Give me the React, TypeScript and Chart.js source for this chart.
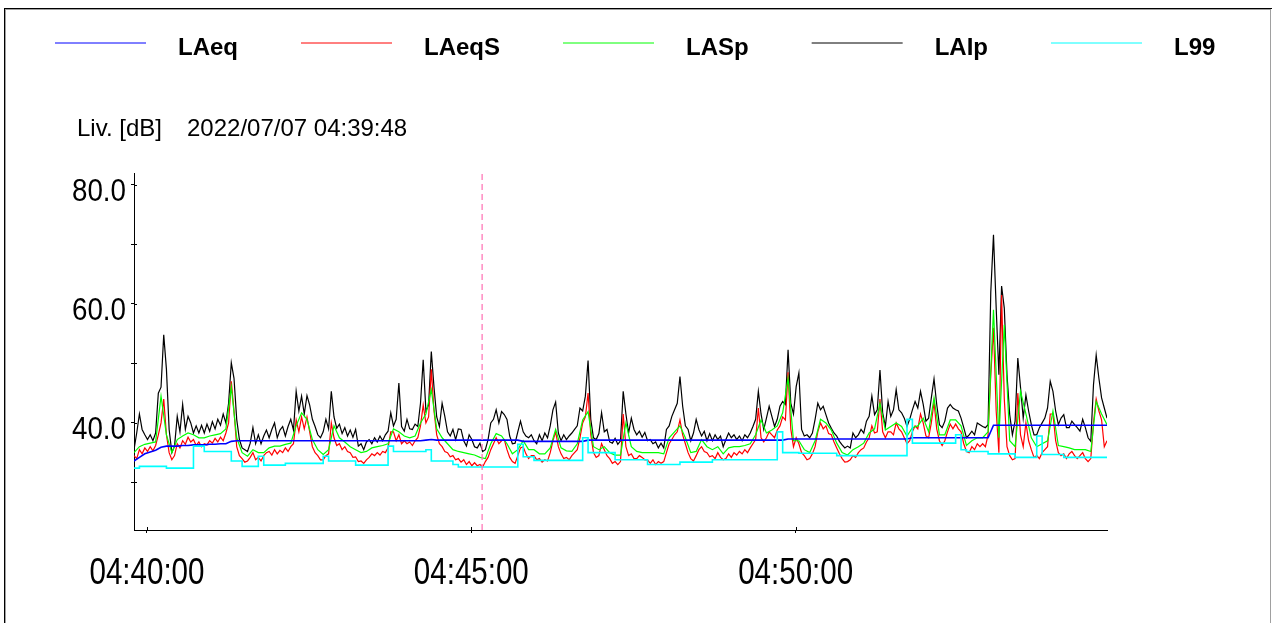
import React, { useEffect, useRef } from 'react';
import { Chart, registerables } from 'chart.js';

Chart.register(...registerables);

// ---- text / ticks ----
const Y_TITLE = 'Liv. [dB]';
const DATE_LABEL = '2022/07/07 04:39:48';
const START_TIME = '04:39:48';
const CURSOR_TIME = '04:45:10';
const STEP_S = 5; // LAeq, LASp, L99 sampling
const FAST_STEP_S = 2.5; // LAIp, LAeqS sampling
const SPAN_S = 900;
const X_TICK_LABELS = ['04:40:00', '04:45:00', '04:50:00'];
const Y_TICK_LABELS = ['40.0', '60.0', '80.0'];
const Y_MINOR_TICKS = [30, 50, 70];
const Y_MIN = 22;
const Y_MAX = 82;

const SERIES_NAMES = ['LAeq', 'LAeqS', 'LASp', 'LAIp', 'L99'];
const SERIES_COLORS = ['#0000ff', '#ff0000', '#00ff00', '#000000', '#00ffff'];

// ---- series values ----
// LAIp, one value every FAST_STEP_S seconds from START_TIME
const LAIp = [
  35.5, 38.3, 41.5, 38.9, 38.0, 37.2, 38.0, 37.0, 38.3, 45.0,
  46.0, 54.8, 49.0, 38.9, 35.0, 36.1, 41.1, 38.5, 43.1, 38.9,
  41.1, 40.0, 38.3, 39.5, 38.3, 39.6, 38.3, 39.8, 38.6, 40.2,
  39.0, 40.6, 39.6, 41.5, 40.0, 43.3, 50.1, 47.5, 40.6, 37.2,
  35.8, 35.5, 35.2, 36.6, 39.2, 36.5, 38.0, 36.5, 37.8, 38.8,
  37.5, 38.9, 40.0, 37.5, 38.8, 39.4, 37.8, 39.4, 40.6, 38.8,
  45.3, 42.0, 44.5, 41.5, 44.6, 43.0, 40.6, 39.4, 38.0, 37.5,
  38.5, 40.6, 39.0, 45.3, 41.0, 39.1, 39.8, 38.2, 39.2, 37.8,
  38.8, 37.6, 38.9, 36.1, 36.5, 35.5, 36.8, 37.2, 36.5, 37.5,
  36.8, 37.8, 37.0, 38.0, 38.6, 41.7, 39.5, 40.6, 46.7, 39.4,
  38.6, 40.6, 39.0, 38.9, 39.8, 39.4, 43.3, 50.6, 42.0, 43.0,
  52.0, 46.0, 41.0, 39.4, 43.3, 41.1, 38.5, 37.8, 38.9, 37.2,
  39.0, 38.9, 37.0, 36.1, 38.0, 37.2, 36.0, 35.8, 36.6, 35.2,
  35.5, 37.2, 40.0, 40.6, 42.2, 40.0, 41.9, 41.4, 40.6, 37.8,
  36.5, 36.6, 38.5, 40.3, 38.5, 37.8, 37.5, 38.0, 37.0, 36.5,
  38.0, 37.0, 38.3, 37.5, 39.5, 42.2, 43.5, 38.3, 37.0, 38.0,
  37.2, 37.8, 38.3, 38.9, 39.5, 42.5, 42.0, 44.5, 50.5, 40.6,
  37.5, 37.2, 38.2, 41.7, 38.5, 38.9, 36.8, 36.6, 37.4, 36.4,
  37.0, 45.3, 41.5, 38.3, 40.8, 38.9, 38.0, 38.6, 37.6, 38.4,
  37.0, 37.2, 36.5, 36.8, 35.8, 36.6, 35.8, 38.9, 39.5, 41.1,
  42.2, 43.3, 47.8, 42.8, 39.5, 38.9, 37.0, 38.3, 40.6, 38.9,
  37.8, 38.6, 37.0, 38.2, 37.0, 38.0, 37.2, 37.8, 36.0, 37.2,
  38.3, 37.5, 38.0, 37.2, 37.8, 37.0, 38.0, 37.5, 38.3, 39.4,
  40.6, 45.3, 41.5, 38.9, 40.8, 42.8, 41.1, 39.4, 40.6, 42.8,
  43.6, 43.1, 52.3, 43.3, 41.5, 46.1, 48.4, 38.9, 37.8, 38.0,
  37.5, 38.3, 40.6, 43.3, 42.2, 42.8, 41.4, 40.0, 39.1, 38.3,
  37.8, 36.9, 36.3, 35.8, 36.1, 35.8, 38.3, 37.5, 38.0, 38.9,
  38.3, 40.3, 41.1, 44.5, 41.4, 42.2, 48.9, 41.7, 39.4, 43.6,
  41.1, 42.2, 45.6, 42.2, 41.7, 40.8, 39.4, 40.6, 42.2, 43.6,
  42.5, 45.3, 43.1, 40.3, 40.8, 44.2, 47.4, 43.1, 39.7, 39.2,
  40.3, 42.5, 43.1, 42.5, 42.2, 42.0, 40.8, 39.2, 37.5, 38.0,
  38.6, 38.0, 40.0, 39.7, 39.4, 39.2, 39.7, 62.0, 71.6, 59.3,
  48.1, 63.0, 59.3, 48.1, 41.4, 38.0, 40.3, 50.9, 46.0, 40.8,
  44.7, 42.0, 39.7, 38.0, 38.0, 39.2, 40.0, 40.8, 42.5, 47.0,
  45.3, 42.0, 39.7, 40.8, 41.4, 39.2, 39.2, 40.3, 39.7, 39.2,
  38.6, 40.6, 39.2, 37.5, 36.9, 46.4, 51.4, 47.5, 44.2, 42.5,
  40.8,
];

// LAeqS, one value every FAST_STEP_S seconds from START_TIME
const LAeqS = [
  34.5, 34.0, 35.5, 34.8, 35.8, 35.2, 36.0, 35.3, 36.2, 38.0,
  40.0, 44.0, 38.0, 35.0, 33.8, 34.5, 36.5, 35.8, 37.0, 36.4,
  37.6, 36.8, 37.2, 36.2, 36.8, 36.0, 36.5, 36.3, 37.0, 36.6,
  37.4, 36.8, 37.6, 37.0, 38.3, 40.0, 47.0, 42.0, 36.0, 34.5,
  34.0, 33.4, 33.6, 34.2, 35.0, 33.8, 34.2, 33.6, 34.5, 35.0,
  35.2, 34.6, 35.5, 34.8, 35.4, 35.0, 35.8, 35.2, 36.0, 36.5,
  40.5, 38.5, 41.0, 39.0, 41.0, 38.5, 36.0, 35.0, 34.5, 33.8,
  33.8, 34.5, 34.8, 40.0, 37.5, 36.2, 36.5, 35.5, 36.0, 35.2,
  35.0, 34.2, 34.3, 33.5, 33.6, 33.2, 33.8, 34.2, 34.8, 34.5,
  35.0, 34.6, 35.2, 35.0, 35.8, 38.5, 38.5, 37.0, 38.0, 36.5,
  37.0, 36.5, 36.8, 36.2, 37.0, 37.5, 39.5, 43.0, 40.0, 41.0,
  49.0, 42.0, 38.0, 36.5, 36.0, 35.2, 35.0, 34.3, 34.5, 33.8,
  34.0, 33.4, 33.8, 33.0, 33.5, 32.8, 33.3, 32.8, 33.0, 32.6,
  33.5, 34.2, 35.5, 36.5, 37.5, 36.5, 37.0, 37.2, 35.5, 34.2,
  33.5, 33.2, 34.5, 35.8, 36.0, 34.8, 34.0, 34.5, 34.5, 33.8,
  34.0, 33.4, 33.8, 33.6, 35.0, 37.0, 38.5, 36.0, 34.8, 34.0,
  34.2, 33.8, 34.5, 35.0, 35.5, 37.5, 40.0, 41.0, 45.0, 38.0,
  35.0, 34.2, 34.5, 36.5, 35.5, 34.5, 34.0, 33.2, 33.5, 33.0,
  33.5, 41.5, 36.0, 34.5, 34.8, 34.0, 34.0, 34.5, 34.2, 33.8,
  33.8, 33.2, 33.8, 33.0, 33.5, 33.2, 33.5, 35.0, 36.5, 37.2,
  38.0, 38.5, 40.5, 38.0, 36.5, 35.0, 34.0, 33.6, 34.5, 35.5,
  36.0, 35.2, 35.0, 34.3, 34.5, 34.0, 35.0, 34.2, 33.8, 34.0,
  34.8, 34.2, 35.0, 34.6, 35.2, 34.8, 35.5, 35.0, 35.8, 36.5,
  37.2, 42.5, 37.5, 36.8, 37.5, 38.5, 38.0, 37.5, 38.8, 39.5,
  41.0, 40.5, 48.5, 39.0, 36.0, 37.5, 36.5, 35.0, 34.5, 33.8,
  34.0, 34.8, 36.0, 38.5, 40.0, 39.0, 39.5, 38.2, 38.0, 36.8,
  35.8, 34.8, 34.0, 33.4, 33.5, 33.8, 34.5, 34.2, 35.0, 35.5,
  35.8, 36.8, 37.5, 39.5, 38.3, 38.5, 44.0, 38.5, 37.5, 38.5,
  38.5, 38.0, 40.0, 39.0, 38.5, 37.5, 36.5, 37.0, 38.5, 39.5,
  39.0, 41.5, 40.0, 37.8, 37.5, 40.0, 43.5, 39.0, 37.0, 36.2,
  37.0, 38.5, 39.8, 39.0, 39.8, 39.0, 38.5, 36.5, 35.2, 35.0,
  36.0, 35.5, 36.5, 36.0, 36.5, 36.0, 38.0, 48.0, 56.0, 42.0,
  35.0, 61.5, 44.0, 36.0, 34.5, 33.8, 34.0, 45.0, 38.0, 36.0,
  40.0, 37.0, 35.5, 34.2, 34.5, 34.0, 35.0, 35.5, 36.0, 41.5,
  41.5, 37.0, 35.0, 34.5, 34.8, 34.0, 34.8, 35.2, 34.5, 34.0,
  34.5, 35.0, 34.0, 33.5, 34.0, 40.0, 44.0, 42.0, 40.5, 36.0,
  37.0,
];

// LASp, one value every STEP_S seconds from START_TIME
const LASp = [
  35.0, 36.0, 36.4, 36.6, 36.8, 44.5, 38.0, 35.0, 37.2, 37.8,
  38.3, 38.0, 37.5, 37.5, 37.8, 38.0, 38.2, 39.0, 46.0, 37.5,
  35.0, 34.4, 35.5, 35.0, 35.0, 35.8, 36.1, 36.1, 36.4, 36.6,
  39.5, 41.7, 40.6, 37.2, 35.5, 34.7, 35.5, 39.5, 37.5, 36.8,
  36.0, 35.5, 35.0, 35.2, 35.8, 36.0, 36.2, 36.5, 39.0, 38.5,
  37.8, 37.5, 37.8, 40.0, 41.5, 45.6, 39.0, 37.5, 36.5, 35.5,
  35.2, 35.0, 34.8, 34.6, 34.2, 34.0, 36.5, 38.2, 37.8, 36.5,
  34.8, 35.5, 37.0, 35.5, 35.5, 34.8, 34.8, 35.8, 38.9, 35.8,
  35.3, 35.2, 36.5, 40.5, 41.9, 36.0, 35.5, 36.0, 35.0, 34.6,
  34.6, 40.0, 36.0, 35.2, 35.0, 35.0, 35.0, 35.0, 34.8, 37.5,
  38.5, 39.5, 37.5, 35.0, 35.2, 37.2, 36.0, 35.5, 36.0, 34.8,
  35.8, 36.0, 36.0, 36.2, 36.5, 38.0, 40.5, 38.3, 38.8, 39.5,
  41.7, 47.5, 37.0, 37.0, 35.5, 35.0, 37.0, 40.6, 40.0, 38.8,
  36.6, 35.0, 34.6, 35.5, 36.0, 36.6, 38.3, 39.0, 43.3, 38.8,
  39.4, 40.0, 39.4, 37.8, 39.2, 39.5, 40.8, 38.5, 44.2, 38.0,
  38.0, 40.5, 40.5, 39.5, 36.2, 37.0, 37.5, 37.5, 38.5, 59.0,
  37.5, 56.5, 37.0, 36.0, 45.3, 41.5, 37.5, 36.0, 36.5, 37.0,
  42.0, 36.2, 36.0, 35.8, 35.5, 35.5, 35.5, 35.2, 43.6, 41.5,
  39.7,
];

// LAeq, one value every STEP_S seconds from START_TIME
const LAeq = [
  33.6, 34.2, 34.8, 35.1, 35.4, 35.9, 36.1, 36.1, 36.1, 36.2,
  36.2, 36.3, 36.3, 36.3, 36.4, 36.4, 36.5, 36.5, 36.9, 37.0,
  37.0, 37.0, 37.0, 37.0, 37.0, 37.0, 37.0, 37.0, 37.0, 37.0,
  37.0, 37.0, 37.0, 37.0, 37.0, 37.0, 37.0, 37.0, 37.0, 37.0,
  37.0, 37.0, 37.0, 37.0, 37.0, 37.0, 37.0, 37.0, 37.0, 37.0,
  37.0, 37.0, 37.0, 37.0, 37.1, 37.2, 37.1, 37.1, 37.1, 37.1,
  37.1, 37.1, 37.1, 37.1, 37.1, 37.1, 37.1, 37.1, 37.1, 37.1,
  37.1, 37.1, 36.9, 36.9, 36.9, 36.9, 36.9, 36.9, 36.9, 36.9,
  36.9, 36.9, 36.9, 36.9, 37.1, 37.1, 37.1, 37.1, 37.1, 37.1,
  37.1, 37.1, 37.1, 37.1, 37.1, 37.1, 37.1, 37.1, 37.1, 37.1,
  37.1, 37.1, 37.1, 37.1, 37.1, 37.1, 37.1, 37.1, 37.1, 37.1,
  37.1, 37.1, 37.1, 37.1, 37.1, 37.1, 37.1, 37.1, 37.1, 37.1,
  37.1, 37.3, 37.3, 37.3, 37.3, 37.3, 37.3, 37.3, 37.3, 37.3,
  37.3, 37.3, 37.3, 37.3, 37.3, 37.3, 37.3, 37.3, 37.3, 37.3,
  37.3, 37.3, 37.3, 37.3, 37.5, 37.5, 37.5, 37.5, 37.5, 37.5,
  37.5, 37.5, 37.5, 37.5, 37.5, 37.5, 37.5, 37.5, 37.5, 39.6,
  39.6, 39.6, 39.6, 39.6, 39.6, 39.6, 39.6, 39.6, 39.6, 39.6,
  39.6, 39.6, 39.6, 39.6, 39.6, 39.6, 39.6, 39.6, 39.6, 39.6,
  39.6,
];

// L99, one value every STEP_S seconds from START_TIME (held until next value)
const L99 = [
  32.4, 32.4, 32.7, 32.7, 32.7, 32.7, 32.7, 32.4, 32.4, 32.4,
  32.4, 32.4, 36.1, 36.1, 35.2, 35.2, 35.2, 35.2, 35.2, 33.6,
  33.6, 32.7, 32.7, 32.7, 34.4, 32.9, 32.9, 32.9, 32.9, 33.2,
  33.2, 33.2, 33.2, 33.2, 33.2, 33.2, 34.4, 33.6, 33.6, 33.6,
  33.6, 33.6, 32.9, 32.9, 32.9, 32.9, 32.9, 32.9, 36.1, 35.2,
  35.2, 35.2, 35.2, 35.2, 35.2, 35.5, 33.6, 33.6, 33.6, 33.6,
  33.0, 32.6, 32.6, 32.6, 32.6, 32.6, 32.6, 32.6, 32.6, 32.6,
  32.6, 32.6, 36.4, 34.3, 34.3, 33.7, 33.7, 33.7, 33.7, 33.7,
  33.7, 33.7, 33.7, 33.7, 37.5, 35.0, 35.0, 35.0, 35.0, 35.0,
  33.8, 33.8, 33.8, 33.8, 33.8, 33.8, 33.0, 33.0, 33.0, 33.0,
  33.0, 33.0, 33.4, 33.4, 33.4, 33.4, 33.4, 33.4, 33.8, 33.8,
  33.8, 33.8, 33.8, 33.8, 33.8, 33.8, 33.8, 33.8, 33.8, 33.8,
  38.5, 35.0, 35.0, 35.0, 34.9, 34.9, 34.9, 34.9, 34.9, 34.9,
  34.9, 34.5, 34.5, 34.5, 34.5, 34.5, 34.5, 34.5, 34.5, 34.5,
  34.5, 34.5, 34.5, 34.5, 40.6, 36.6, 36.6, 36.6, 36.6, 36.6,
  36.6, 36.6, 36.6, 38.0, 35.5, 35.2, 35.2, 35.2, 35.2, 34.8,
  34.8, 34.8, 34.8, 34.8, 34.2, 34.2, 34.2, 34.2, 37.8, 34.7,
  34.7, 34.7, 34.7, 34.2, 34.2, 34.2, 34.2, 34.2, 34.2, 34.2,
  34.2,
];

// ---- helpers ----
const toSec = (s: string) => {
  const [h, m, sec] = s.split(':').map(Number);
  return h * 3600 + m * 60 + sec;
};
const T0 = toSec(START_TIME);
const toPoints = (vals: number[], step: number) => vals.map((v, i) => ({ x: T0 + i * step, y: v }));

const FONT = '"Liberation Sans", Arial, Helvetica, sans-serif';

function drawScaledText(ctx: CanvasRenderingContext2D, text: string, x: number, y: number, sx: number) {
  ctx.save();
  ctx.translate(x, y);
  ctx.scale(sx, 1);
  ctx.fillText(text, 0, 0);
  ctx.restore();
}

const decorPlugin = {
  id: 'decor',
  afterDraw(chart: any) {
    const ctx: CanvasRenderingContext2D = chart.ctx;
    const xs = chart.scales.x;
    const ys = chart.scales.y;
    const area = chart.chartArea;
    const W = chart.width;
    const H = chart.height;
    ctx.save();

    // outer frame
    ctx.fillStyle = '#000000';
    ctx.fillRect(4, 8, W - 4, 1);
    ctx.fillRect(4, 8, 1, H - 8);
    ctx.fillStyle = '#a0a0a0';
    ctx.fillRect(5, 9, W - 6, 1);
    ctx.fillRect(5, 9, 1, H - 9);
    ctx.fillRect(W - 2, 9, 1, H - 9);

    // inward halves of tick marks
    ctx.strokeStyle = '#000000';
    ctx.lineWidth = 1;
    ys.ticks.forEach((t: any) => {
      const py = Math.round(ys.getPixelForValue(t.value)) + 0.5;
      ctx.beginPath();
      ctx.moveTo(area.left, py);
      ctx.lineTo(area.left + 3, py);
      ctx.stroke();
    });
    xs.ticks.forEach((t: any) => {
      const px = Math.round(xs.getPixelForValue(t.value)) + 0.5;
      ctx.beginPath();
      ctx.moveTo(px, area.bottom);
      ctx.lineTo(px, area.bottom - 3);
      ctx.stroke();
    });

    // tick labels
    ctx.fillStyle = '#000000';
    ctx.textBaseline = 'alphabetic';
    ctx.font = `32px ${FONT}`;
    ctx.textAlign = 'right';
    Y_TICK_LABELS.forEach((lab) => {
      const py = ys.getPixelForValue(parseFloat(lab));
      drawScaledText(ctx, lab, area.left - 8, py + 16, 0.867);
    });
    ctx.font = `36px ${FONT}`;
    ctx.textAlign = 'center';
    X_TICK_LABELS.forEach((lab) => {
      const px = xs.getPixelForValue(toSec(lab));
      drawScaledText(ctx, lab, px, 584, 0.82);
    });

    // axis title + date
    ctx.textAlign = 'left';
    ctx.font = `24px ${FONT}`;
    ctx.fillText(Y_TITLE, 77, 136);
    ctx.fillText(DATE_LABEL, 187, 136);

    // legend
    ctx.font = `bold 24px ${FONT}`;
    let x = 55;
    SERIES_NAMES.forEach((name, i) => {
      ctx.strokeStyle = SERIES_COLORS[i];
      ctx.lineWidth = 1;
      ctx.beginPath();
      ctx.moveTo(x, 43);
      ctx.lineTo(x + 91, 43);
      ctx.stroke();
      ctx.fillStyle = '#000000';
      ctx.fillText(name, x + 123, 55);
      x = x + 123 + ctx.measureText(name).width + 63;
    });

    ctx.restore();
  },
};

export default function App() {
  const canvasRef = useRef<HTMLCanvasElement | null>(null);

  useEffect(() => {
    const canvas = canvasRef.current;
    if (!canvas) return;
    const cursorX = toSec(CURSOR_TIME);
    const base = { pointRadius: 0, borderWidth: 1.2, tension: 0, fill: false };
    const chart = new Chart(canvas, {
      type: 'line',
      data: {
        datasets: [
          {
            ...base,
            label: 'cursor',
            data: [{ x: cursorX, y: Y_MIN }, { x: cursorX, y: Y_MAX }],
            borderColor: '#ff7ab8',
            borderWidth: 1.3,
            borderDash: [6, 4],
          },
          { ...base, label: SERIES_NAMES[4], data: toPoints(L99, STEP_S), borderColor: SERIES_COLORS[4], borderWidth: 1.6, stepped: 'after' },
          { ...base, label: SERIES_NAMES[0], data: toPoints(LAeq, STEP_S), borderColor: SERIES_COLORS[0], borderWidth: 1.6 },
          { ...base, label: SERIES_NAMES[2], data: toPoints(LASp, STEP_S), borderColor: SERIES_COLORS[2] },
          { ...base, label: SERIES_NAMES[1], data: toPoints(LAeqS, FAST_STEP_S), borderColor: SERIES_COLORS[1] },
          { ...base, label: SERIES_NAMES[3], data: toPoints(LAIp, FAST_STEP_S), borderColor: SERIES_COLORS[3] },
        ] as any,
      },
      options: {
        responsive: false,
        animation: false,
        devicePixelRatio: 1,
        layout: { padding: { left: 131, right: 165, top: 173, bottom: 90 } },
        plugins: { legend: { display: false }, tooltip: { enabled: false }, title: { display: false } },
        scales: {
          x: {
            type: 'linear',
            min: T0,
            max: T0 + SPAN_S,
            afterBuildTicks: (scale: any) => {
              scale.ticks = X_TICK_LABELS.map((l) => ({ value: toSec(l) }));
            },
            ticks: { display: false },
            grid: { display: true, drawOnChartArea: false, drawTicks: true, tickLength: 3, color: '#000000' },
            border: { display: true, color: '#000000', width: 1 },
          },
          y: {
            type: 'linear',
            min: Y_MIN,
            max: Y_MAX,
            afterBuildTicks: (scale: any) => {
              const vals = [...Y_MINOR_TICKS, ...Y_TICK_LABELS.map((l) => parseFloat(l))].sort((a, b) => a - b);
              scale.ticks = vals.map((v) => ({ value: v }));
            },
            ticks: { display: false },
            grid: { display: true, drawOnChartArea: false, drawTicks: true, tickLength: 3, color: '#000000' },
            border: { display: true, color: '#000000', width: 1 },
          },
        },
      } as any,
      plugins: [decorPlugin],
    });
    return () => chart.destroy();
  }, []);

  return (
    <div style={{ position: 'fixed', left: 0, top: 0, width: 1272, height: 623, background: '#ffffff' }}>
      <canvas ref={canvasRef} width={1272} height={623} style={{ display: 'block' }} />
    </div>
  );
}
